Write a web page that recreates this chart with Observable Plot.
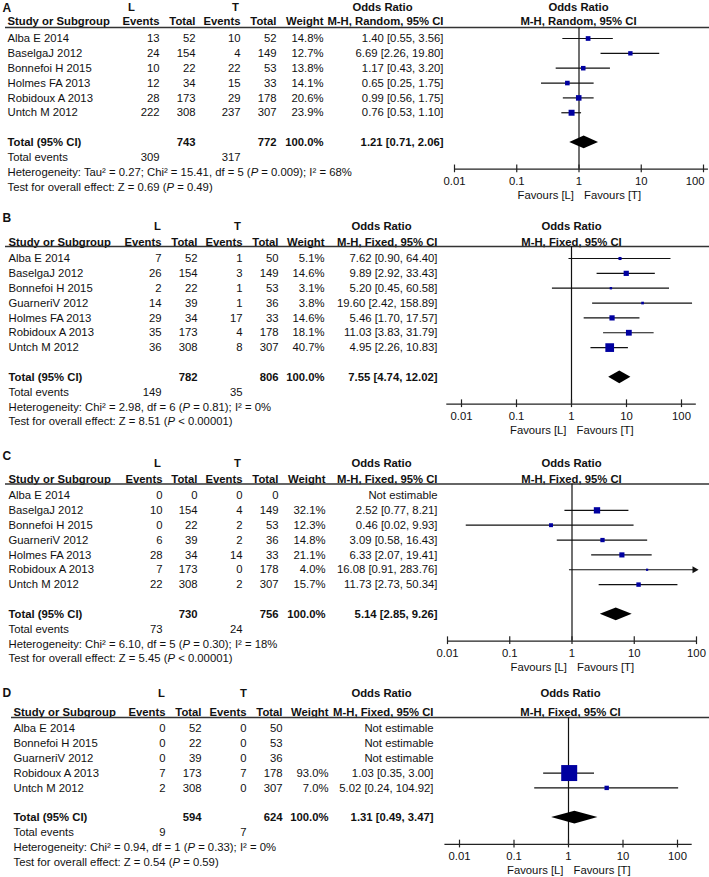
<!DOCTYPE html>
<html>
<head>
<meta charset="utf-8">
<script src="https://cdn.jsdelivr.net/npm/d3@7"></script>
<script src="https://cdn.jsdelivr.net/npm/@observablehq/plot@0.6"></script>
<style>
  html, body { margin: 0; padding: 0; background: #fff; }
  #chart { width: 709px; }
  #chart svg { display: block; }
</style>
</head>
<body>
<div id="chart"></div>
<script>
// ---------- DATA ----------
const tickValues = [0.01, 0.1, 1, 10, 100];
const tickLabels = ["0.01", "0.1", "1", "10", "100"];
const groupLabels = ["L", "T"];
const favoursLabels = ["Favours [L]", "Favours [T]"];

// Panel A
const studiesA = ["Alba E 2014", "BaselgaJ 2012", "Bonnefoi H 2015", "Holmes FA 2013", "Robidoux A 2013", "Untch M 2012"];
const lEventsA = [13, 24, 10, 12, 28, 222];
const lTotalA = [52, 154, 22, 34, 173, 308];
const tEventsA = [10, 4, 22, 15, 29, 237];
const tTotalA = [52, 149, 53, 33, 178, 307];
const weightA = [14.8, 12.7, 13.8, 14.1, 20.6, 23.9];
const orA = [1.40, 6.69, 1.17, 0.65, 0.99, 0.76];
const loA = [0.55, 2.26, 0.43, 0.25, 0.56, 0.53];
const hiA = [3.56, 19.80, 3.20, 1.75, 1.75, 1.10];
const totalsA = [743, 772];          // L total, T total
const totalEventsA = [309, 317];     // L events, T events
const pooledA = [1.21, 0.71, 2.06];  // OR, lower, upper
const methodA = "M-H, Random, 95% CI";
const hetA = "Heterogeneity: Tau² = 0.27; Chi² = 15.41, df = 5 (P = 0.009); I² = 68%";
const testA = "Test for overall effect: Z = 0.69 (P = 0.49)";

// Panel B
const studiesB = ["Alba E 2014", "BaselgaJ 2012", "Bonnefoi H 2015", "GuarneriV 2012", "Holmes FA 2013", "Robidoux A 2013", "Untch M 2012"];
const lEventsB = [7, 26, 2, 14, 29, 35, 36];
const lTotalB = [52, 154, 22, 39, 34, 173, 308];
const tEventsB = [1, 3, 1, 1, 17, 4, 8];
const tTotalB = [50, 149, 53, 36, 33, 178, 307];
const weightB = [5.1, 14.6, 3.1, 3.8, 14.6, 18.1, 40.7];
const orB = [7.62, 9.89, 5.20, 19.60, 5.46, 11.03, 4.95];
const loB = [0.90, 2.92, 0.45, 2.42, 1.70, 3.83, 2.26];
const hiB = [64.40, 33.43, 60.58, 158.89, 17.57, 31.79, 10.83];
const totalsB = [782, 806];
const totalEventsB = [149, 35];
const pooledB = [7.55, 4.74, 12.02];
const methodB = "M-H, Fixed, 95% CI";
const hetB = "Heterogeneity: Chi² = 2.98, df = 6 (P = 0.81); I² = 0%";
const testB = "Test for overall effect: Z = 8.51 (P < 0.00001)";

// Panel C
const studiesC = ["Alba E 2014", "BaselgaJ 2012", "Bonnefoi H 2015", "GuarneriV 2012", "Holmes FA 2013", "Robidoux A 2013", "Untch M 2012"];
const lEventsC = [0, 10, 0, 6, 28, 7, 22];
const lTotalC = [0, 154, 22, 39, 34, 173, 308];
const tEventsC = [0, 4, 2, 2, 14, 0, 2];
const tTotalC = [0, 149, 53, 36, 33, 178, 307];
const weightC = [null, 32.1, 12.3, 14.8, 21.1, 4.0, 15.7];
const orC = [null, 2.52, 0.46, 3.09, 6.33, 16.08, 11.73];
const loC = [null, 0.77, 0.02, 0.58, 2.07, 0.91, 2.73];
const hiC = [null, 8.21, 9.93, 16.43, 19.41, 283.76, 50.34];
const totalsC = [730, 756];
const totalEventsC = [73, 24];
const pooledC = [5.14, 2.85, 9.26];
const methodC = "M-H, Fixed, 95% CI";
const hetC = "Heterogeneity: Chi² = 6.10, df = 5 (P = 0.30); I² = 18%";
const testC = "Test for overall effect: Z = 5.45 (P < 0.00001)";

// Panel D
const studiesD = ["Alba E 2014", "Bonnefoi H 2015", "GuarneriV 2012", "Robidoux A 2013", "Untch M 2012"];
const lEventsD = [0, 0, 0, 7, 2];
const lTotalD = [52, 22, 39, 173, 308];
const tEventsD = [0, 0, 0, 7, 0];
const tTotalD = [50, 53, 36, 178, 307];
const weightD = [null, null, null, 93.0, 7.0];
const orD = [null, null, null, 1.03, 5.02];
const loD = [null, null, null, 0.35, 0.24];
const hiD = [null, null, null, 3.00, 104.92];
const totalsD = [594, 624];
const totalEventsD = [9, 7];
const pooledD = [1.31, 0.49, 3.47];
const methodD = "M-H, Fixed, 95% CI";
const hetD = "Heterogeneity: Chi² = 0.94, df = 1 (P = 0.33); I² = 0%";
const testD = "Test for overall effect: Z = 0.54 (P = 0.59)";

// ---------- LAYOUT (styles / positions only) ----------
const FONT = "'Liberation Sans', Arial, Helvetica, sans-serif";
const FS = 11.3;
const ROWH = 14.85;
const layouts = {
  A: {height: 209, row0: 38, ml: 5, study: 7, le: 159, lt: 195, te: 240, tt: 276, w: 323, orc: 443,
      orHead: 382, fHead: 578, Lx: 131, Tx: 235, x01: 454, x100: 703, ext: [0.01, 120], lastLabelEnd: true,
      letterRow: -2.05, groupRow: -2.1, headRow: -1.15, lineRow: -0.74, R100: 6.9},
  B: {height: 232, row0: 49, ml: 5, study: 8, le: 161, lt: 197, te: 242, tt: 278, w: 324, orc: 437,
      orHead: 381, fHead: 571, Lx: 157, Tx: 237, x01: 461, x100: 681, ext: [0.0054, 186], lastLabelEnd: false,
      letterRow: -2.75, groupRow: -2.15, headRow: -1.08, lineRow: -0.8, R100: 7.7},
  C: {height: 232, row0: 54, ml: 5, study: 8, le: 162, lt: 197, te: 242, tt: 278, w: 325, orc: 437,
      orHead: 381, fHead: 571, Lx: 157, Tx: 237, x01: 447, x100: 696, ext: [0.01, 100], lastLabelEnd: false,
      letterRow: -2.68, groupRow: -2.14, headRow: -1.08, lineRow: -0.78, R100: 6.3},
  D: {height: 204, row0: 55, ml: 11, study: 13, le: 165, lt: 201, te: 246, tt: 282, w: 328, orc: 433,
      orHead: 381, fHead: 570, Lx: 161, Tx: 243, x01: 459, x100: 677, ext: [0.0054, 186], lastLabelEnd: false,
      letterRow: -2.4, groupRow: -2.35, headRow: -1.07, lineRow: -0.74, R100: 9.36}
};

const panelsData = [
  {id: "A", studies: studiesA, lE: lEventsA, lT: lTotalA, tE: tEventsA, tT: tTotalA, w: weightA, or: orA, lo: loA, hi: hiA,
   totals: totalsA, events: totalEventsA, pooled: pooledA, method: methodA, het: hetA, test: testA},
  {id: "B", studies: studiesB, lE: lEventsB, lT: lTotalB, tE: tEventsB, tT: tTotalB, w: weightB, or: orB, lo: loB, hi: hiB,
   totals: totalsB, events: totalEventsB, pooled: pooledB, method: methodB, het: hetB, test: testB},
  {id: "C", studies: studiesC, lE: lEventsC, lT: lTotalC, tE: tEventsC, tT: tTotalC, w: weightC, or: orC, lo: loC, hi: hiC,
   totals: totalsC, events: totalEventsC, pooled: pooledC, method: methodC, het: hetC, test: testC},
  {id: "D", studies: studiesD, lE: lEventsD, lT: lTotalD, tE: tEventsD, tT: tTotalD, w: weightD, or: orD, lo: loD, hi: hiD,
   totals: totalsD, events: totalEventsD, pooled: pooledD, method: methodD, het: hetD, test: testD}
];

const fmt2 = d3.format(".2f");
const fmt1 = d3.format(".1f");

function buildPanel(d) {
  const L = layouts[d.id];
  const n = d.studies.length;
  const rows = d.studies.map((s, i) => ({
    i, s, le: d.lE[i], lt: d.lT[i], te: d.tE[i], tt: d.tT[i], w: d.w[i], or: d.or[i], lo: d.lo[i], hi: d.hi[i]
  }));
  const est = rows.filter(r => r.or != null);
  const totalRow = n + 1, eventsRow = n + 2, hetRow = n + 3, testRow = n + 4;
  const axisRow = n + 2.8;
  const [e0, e1] = L.ext;
  const ml = L.ml;
  const at = x => x - ml;

  const txt = (data, opts) => Plot.text(data, {frameAnchor: "left", fill: "#111", fontSize: FS, ...opts});

  const header = [{row: L.headRow}];
  const group = [{row: L.groupRow}];
  const totalR = [{row: totalRow}];
  const eventsR = [{row: eventsRow}];

  const pooledDiamond = [
    {x: d.pooled[1], y1: totalRow, y2: totalRow},
    {x: d.pooled[0], y1: totalRow - 0.43, y2: totalRow + 0.43},
    {x: d.pooled[2], y1: totalRow, y2: totalRow}
  ];

  const tickRows = tickValues.map((t, k) => ({x: t, y: axisRow + 0.82, label: tickLabels[k], last: k === tickValues.length - 1}));
  const inner = tickRows.filter(t => !(t.last && L.lastLabelEnd));
  const edge = tickRows.filter(t => t.last && L.lastLabelEnd);

  const marks = [
    // panel letter
    txt([{row: L.letterRow}], {y: "row", text: () => d.id, textAnchor: "start", dx: at(2), fontWeight: "bold", fontSize: 12}),
    // group headers
    txt(group, {y: "row", text: () => groupLabels[0], textAnchor: "middle", dx: at(L.Lx), fontWeight: "bold"}),
    txt(group, {y: "row", text: () => groupLabels[1], textAnchor: "middle", dx: at(L.Tx), fontWeight: "bold"}),
    txt(group, {y: "row", text: () => "Odds Ratio", textAnchor: "middle", dx: at(L.orHead), fontWeight: "bold"}),
    txt(group, {y: "row", text: () => "Odds Ratio", textAnchor: "middle", dx: at(L.fHead), fontWeight: "bold"}),
    // column headers
    txt(header, {y: "row", text: () => "Study or Subgroup", textAnchor: "start", dx: at(L.study), fontWeight: "bold"}),
    txt(header, {y: "row", text: () => "Events", textAnchor: "end", dx: at(L.le), fontWeight: "bold"}),
    txt(header, {y: "row", text: () => "Total", textAnchor: "end", dx: at(L.lt), fontWeight: "bold"}),
    txt(header, {y: "row", text: () => "Events", textAnchor: "end", dx: at(L.te), fontWeight: "bold"}),
    txt(header, {y: "row", text: () => "Total", textAnchor: "end", dx: at(L.tt), fontWeight: "bold"}),
    txt(header, {y: "row", text: () => "Weight", textAnchor: "end", dx: at(L.w), fontWeight: "bold"}),
    txt(header, {y: "row", text: () => d.method, textAnchor: "end", dx: at(L.orc), fontWeight: "bold"}),
    txt(header, {y: "row", text: () => d.method, textAnchor: "middle", dx: at(L.fHead), fontWeight: "bold"}),
    Plot.ruleY([L.lineRow], {stroke: "#333", strokeWidth: 1.5}),
    // study rows
    txt(rows, {y: "i", text: "s", textAnchor: "start", dx: at(L.study)}),
    txt(rows, {y: "i", text: r => String(r.le), textAnchor: "end", dx: at(L.le)}),
    txt(rows, {y: "i", text: r => String(r.lt), textAnchor: "end", dx: at(L.lt)}),
    txt(rows, {y: "i", text: r => String(r.te), textAnchor: "end", dx: at(L.te)}),
    txt(rows, {y: "i", text: r => String(r.tt), textAnchor: "end", dx: at(L.tt)}),
    txt(rows, {y: "i", text: r => r.w == null ? "" : fmt1(r.w) + "%", textAnchor: "end", dx: at(L.w)}),
    txt(rows, {y: "i", text: r => r.or == null ? "Not estimable" : `${fmt2(r.or)} [${fmt2(r.lo)}, ${fmt2(r.hi)}]`, textAnchor: "end", dx: at(L.orc)}),
    // total row
    txt(totalR, {y: "row", text: () => "Total (95% CI)", textAnchor: "start", dx: at(L.study), fontWeight: "bold"}),
    txt(totalR, {y: "row", text: () => String(d.totals[0]), textAnchor: "end", dx: at(L.lt), fontWeight: "bold"}),
    txt(totalR, {y: "row", text: () => String(d.totals[1]), textAnchor: "end", dx: at(L.tt), fontWeight: "bold"}),
    txt(totalR, {y: "row", text: () => "100.0%", textAnchor: "end", dx: at(L.w), fontWeight: "bold"}),
    txt(totalR, {y: "row", text: () => `${fmt2(d.pooled[0])} [${fmt2(d.pooled[1])}, ${fmt2(d.pooled[2])}]`, textAnchor: "end", dx: at(L.orc), fontWeight: "bold"}),
    txt(eventsR, {y: "row", text: () => "Total events", textAnchor: "start", dx: at(L.study)}),
    txt(eventsR, {y: "row", text: () => String(d.events[0]), textAnchor: "end", dx: at(L.le)}),
    txt(eventsR, {y: "row", text: () => String(d.events[1]), textAnchor: "end", dx: at(L.te)}),
    txt([{row: hetRow}], {y: "row", text: () => d.het, textAnchor: "start", dx: at(L.study)}),
    txt([{row: testRow}], {y: "row", text: () => d.test, textAnchor: "start", dx: at(L.study)}),
    // forest: null line, axis, ticks
    Plot.ruleX([{x: 1, y1: L.lineRow, y2: axisRow}], {x: "x", y1: "y1", y2: "y2", stroke: "#111", strokeWidth: 1.2}),
    Plot.ruleY([{y: axisRow, x1: e0, x2: e1}], {y: "y", x1: "x1", x2: "x2", stroke: "#222", strokeWidth: 1.3}),
    Plot.ruleX(tickValues.map(t => ({x: t, y1: axisRow - 0.28, y2: axisRow + 0.24})), {x: "x", y1: "y1", y2: "y2", stroke: "#222", strokeWidth: 1.2}),
    Plot.text(inner, {x: "x", y: "y", text: "label", fill: "#111", fontSize: FS}),
    Plot.text(edge, {x: "x", y: "y", text: "label", fill: "#111", fontSize: FS, textAnchor: "end", dx: 1}),
    Plot.text([{x: 1, y: axisRow + 1.78}], {x: "x", y: "y", text: () => favoursLabels[0], textAnchor: "end", dx: -5, fill: "#111", fontSize: FS}),
    Plot.text([{x: 1, y: axisRow + 1.78}], {x: "x", y: "y", text: () => favoursLabels[1], textAnchor: "start", dx: 5, fill: "#111", fontSize: FS}),
    // CIs
    Plot.ruleY(est, {y: "i", x1: "lo", x2: r => Math.min(r.hi, e1), stroke: "#111", strokeWidth: 1.2}),
    Plot.dot(est.filter(r => r.hi > e1).map(r => ({...r, edge: e1})), {x: "edge", y: "i", symbol: "triangle", rotate: 90, r: 2.6, fill: "#111", stroke: "none", dx: -2}),
    // squares
    Plot.dot(est, {x: "or", y: "i", r: "w", symbol: "square", fill: "#0000a0", stroke: "none"}),
    // pooled diamond
    Plot.area(pooledDiamond, {x1: "x", y1: "y1", y2: "y2", fill: "#000", curve: "linear"})
  ];

  const svg = Plot.plot({
    width: 709,
    height: L.height,
    marginLeft: ml,
    marginRight: 0,
    marginTop: 0,
    marginBottom: 0,
    style: {fontFamily: FONT, fontSize: FS + "px", background: "#fff", color: "#111", overflow: "visible"},
    x: {type: "log", domain: [0.01, 100], range: [L.x01, L.x100], axis: null},
    y: {type: "linear", domain: [-L.row0 / ROWH, (L.height - L.row0) / ROWH], range: [0, L.height], axis: null},
    r: {type: "sqrt", domain: [0, 100], range: [0, L.R100]},
    marks
  });

  // italicise the "P" in (P = ...) statistics
  svg.querySelectorAll("text").forEach(t => {
    const s = t.textContent;
    const m = s.match(/^(.*\()P( [=<].*)$/);
    if (m && t.children.length === 0) {
      t.textContent = "";
      const ns = "http://www.w3.org/2000/svg";
      const a = document.createElementNS(ns, "tspan"); a.textContent = m[1];
      const b = document.createElementNS(ns, "tspan"); b.textContent = "P"; b.setAttribute("font-style", "italic");
      const c = document.createElementNS(ns, "tspan"); c.textContent = m[2];
      t.append(a, b, c);
    }
  });
  return svg;
}

const root = document.getElementById("chart");
panelsData.forEach(d => root.appendChild(buildPanel(d)));
</script>
</body>
</html>
